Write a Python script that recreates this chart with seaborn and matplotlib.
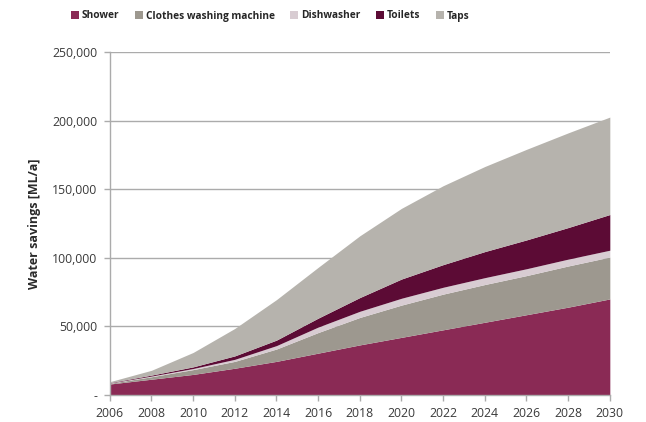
import numpy as np
import matplotlib
matplotlib.use("Agg")
import matplotlib.pyplot as plt
import seaborn as sns
from matplotlib.ticker import FuncFormatter

# Data (cumulative tops, ML/a)
years = [2006, 2008, 2010, 2012, 2014, 2016, 2018, 2020, 2022, 2024, 2026, 2028, 2030]
shower_top = [8000, 11500, 15000, 19500, 24500, 30500, 36500, 42000, 47500, 53000, 58500, 64000, 70000]
washing_top = [8500, 13300, 18500, 24500, 33500, 45500, 56500, 65500, 73500, 80500, 87000, 94000, 100500]
dishwasher_top = [8700, 13800, 19300, 26000, 36000, 49500, 61000, 70500, 78500, 85500, 92000, 99000, 105500]
toilets_top = [9000, 14500, 20500, 28500, 40000, 56000, 71000, 84500, 95000, 104500, 113000, 122000, 131500]
taps_top = [9700, 18000, 31000, 48500, 69500, 93000, 116000, 136000, 152500, 166500, 179000, 191000, 202500]

labels = ["Shower", "Clothes washing machine", "Dishwasher", "Toilets", "Taps"]
colors = ["#8a2a55", "#9d988f", "#d8ccd2", "#5c0b35", "#b6b3ad"]

# per-category amounts from cumulative tops
tops = np.array([shower_top, washing_top, dishwasher_top, toilets_top, taps_top], dtype=float)
values = np.diff(np.vstack([np.zeros(len(years)), tops]), axis=0)

sns.set_theme(style="white")
plt.rcParams['font.family'] = ['Open Sans', 'DejaVu Sans']

fig = plt.figure(figsize=(6.46, 4.22), dpi=100)
ax = fig.add_axes([0.170, 0.064, 0.774, 0.813])

ax.stackplot(years, values, colors=colors, labels=labels, linewidth=0)

ax.set_xlim(2006, 2030)
ax.set_ylim(0, 250000)
ax.set_xticks(years)
ax.set_yticks(range(0, 250001, 50000))
ax.yaxis.set_major_formatter(FuncFormatter(lambda v, p: "-" if v == 0 else f"{int(v):,}"))

ax.grid(axis='y', color='#ababab', linewidth=1.0)
ax.set_axisbelow(True)
for s in ['top', 'right']:
    ax.spines[s].set_visible(False)
for s in ['left', 'bottom']:
    ax.spines[s].set_color('#ababab')
    ax.spines[s].set_linewidth(1.0)

ax.tick_params(axis='both', which='both', direction='out', length=4, width=1,
               color='#ababab', labelsize=8.8, labelcolor='#3a3a3a', pad=5, left=True, bottom=True)
ax.set_ylabel("Water savings [ML/a]", fontsize=9, fontweight='bold', color='#2a2a2a', labelpad=8)

handles, lbls = ax.get_legend_handles_labels()
fig.legend(handles, lbls, loc='center', bbox_to_anchor=(270 / 646, 1 - 16 / 422), ncol=5,
           frameon=False, handlelength=0.8, handleheight=0.8, handletextpad=0.3,
           columnspacing=1.5, prop={'weight': 'bold', 'size': 7.3})

fig.savefig("out.png", dpi=100)
